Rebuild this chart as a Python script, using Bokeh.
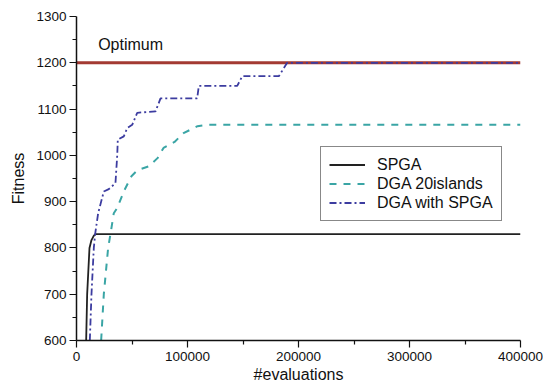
from bokeh.plotting import figure
from bokeh.models import Range1d, FixedTicker, NumeralTickFormatter, Legend, LegendItem, Label
from bokeh.embed import file_html
from bokeh.resources import INLINE

# Data
spga_x = [8700, 9600, 11700, 13500, 15500, 17000, 400000]
spga_y = [600, 700, 800, 817, 826, 830, 830]

dga20_x = [22200, 24600, 28500, 30600, 33600, 36600, 43200, 49500, 55000, 64900, 66700,
           73000, 78400, 88300, 96400, 109000, 118000, 400000]
dga20_y = [600, 700, 800, 830, 875, 886, 925, 955, 968, 976, 980,
           994, 1016, 1029, 1048, 1063, 1066, 1066]

dgaspga_x = [12000, 13500, 15600, 16800, 19500, 24600, 29100, 35100, 36700, 37200, 42600,
             45700, 50200, 54700, 71200, 75700, 108700, 110200, 144800, 149300, 182300,
             189800, 400000]
dgaspga_y = [600, 700, 800, 830, 875, 922, 927, 940, 1000, 1034, 1041,
             1059, 1066, 1092, 1095, 1123, 1123, 1150, 1150, 1171, 1171,
             1200, 1200]

optimum_x = [0, 400000]
optimum_y = [1200, 1200]

x_ticks = [0, 100000, 200000, 300000, 400000]
x_minor = [50000, 150000, 250000, 350000]
y_ticks = [600, 700, 800, 900, 1000, 1100, 1200, 1300]
y_minor = [650, 750, 850, 950, 1050, 1150, 1250]

FONT = "Liberation Sans"

p = figure(width=543, height=388, output_backend="svg", toolbar_location=None,
           x_range=Range1d(0, 400000), y_range=Range1d(600, 1300),
           min_border_left=76, min_border_right=23, min_border_top=16, min_border_bottom=48)
p.outline_line_color = None
p.grid.visible = False
p.background_fill_color = "white"

for ax in (p.xaxis[0], p.yaxis[0]):
    ax.axis_line_color = "#111111"
    ax.axis_line_width = 1.5
    ax.major_tick_line_color = "#111111"
    ax.minor_tick_line_color = "#111111"
    ax.major_tick_line_width = 1.2
    ax.minor_tick_line_width = 1.2
    ax.major_tick_in = 0
    ax.major_tick_out = 7
    ax.minor_tick_in = 0
    ax.minor_tick_out = 4
    ax.major_label_text_font = FONT
    ax.major_label_text_font_size = "13.5px"
    ax.major_label_text_color = "#111111"
    ax.axis_label_text_font = FONT
    ax.axis_label_text_font_size = "16px"
    ax.axis_label_text_font_style = "normal"
    ax.axis_label_text_color = "#111111"

p.xaxis[0].ticker = FixedTicker(ticks=x_ticks, minor_ticks=x_minor)
p.yaxis[0].ticker = FixedTicker(ticks=y_ticks, minor_ticks=y_minor)
p.xaxis[0].formatter = NumeralTickFormatter(format="0")
p.xaxis[0].axis_label = "#evaluations"
p.yaxis[0].axis_label = "Fitness"
p.xaxis[0].major_label_standoff = 4
p.yaxis[0].major_label_standoff = 3
p.xaxis[0].axis_label_standoff = 2
p.yaxis[0].axis_label_standoff = 6

r_opt = p.line(optimum_x, optimum_y, line_color="#a33a33", line_width=3)
r_dga20 = p.line(dga20_x, dga20_y, line_color="#3aa5a5", line_width=2, line_dash="7 7")
r_spga = p.line(spga_x, spga_y, line_color="#222222", line_width=1.8)
r_dgaspga = p.line(dgaspga_x, dgaspga_y, line_color="#3c3ca0", line_width=1.8, line_dash="7 3 2 3")

p.add_layout(Label(x=19500, y=1240, text="Optimum", text_font=FONT, text_font_size="16px",
                   text_baseline="middle", text_color="#111111"))

legend = Legend(items=[LegendItem(label="SPGA", renderers=[r_spga]),
                       LegendItem(label="DGA 20islands", renderers=[r_dga20]),
                       LegendItem(label="DGA with SPGA", renderers=[r_dgaspga])],
                location=(244, 119))
legend.label_text_font = FONT
legend.label_text_font_size = "16px"
legend.label_text_color = "#111111"
legend.glyph_width = 36
legend.glyph_height = 19
legend.label_height = 19
legend.label_standoff = 12
legend.spacing = 0
legend.padding = 8
legend.margin = 0
legend.border_line_color = "#111111"
legend.border_line_width = 1
legend.background_fill_alpha = 1
p.add_layout(legend, "center")

open("out.html", "w").write(file_html(p, INLINE))
